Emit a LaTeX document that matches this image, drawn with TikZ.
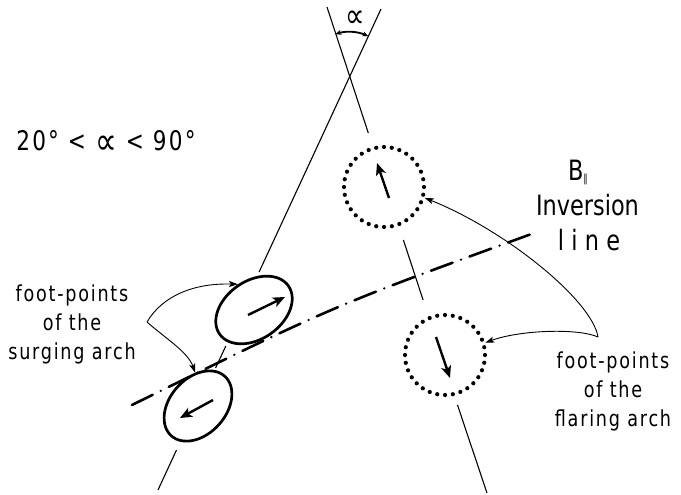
\documentclass[tikz,border=0pt]{standalone}
\usepackage{fontspec}
\setmainfont{DejaVu Sans}[FakeStretch=0.8]
\usetikzlibrary{arrows.meta,shapes.geometric,calc}

\newcommand{\propsym}[2]{\raisebox{#2}{\fontsize{#1}{#1}\selectfont ∝}}

\tikzset{
  guide/.style={line width=1.1pt},
  footsolid/.style={draw, ellipse, line width=2.7pt, inner sep=0pt},
  footdotted/.style={draw, circle, minimum size=80pt, inner sep=0pt,
    line width=4.2pt, line cap=round, dash pattern=on 0pt off 7.854pt},
  fieldarrow/.style={line width=2.4pt, -{Stealth[length=12pt,width=10pt,inset=3pt]}},
  leader/.style={line width=0.9pt, -{Stealth[length=9pt,width=6pt,inset=2pt]}},
  pil/.style={line width=2.6pt, line cap=round,
    dash pattern=on 23pt off 9pt on 0pt off 9pt},
  anglemark/.style={line width=1.8pt,
    {Stealth[length=6pt,width=5pt]}-{Stealth[length=6pt,width=5pt]}},
  biglabel/.style={inner sep=0pt, font=\fontsize{28}{28}\selectfont},
  smalllabel/.style={inner sep=0pt, align=center,
    font=\fontsize{22}{29}\selectfont\addfontfeature{LetterSpace=8}},
}

\begin{document}
\begin{tikzpicture}[x=1pt, y=-1pt]
\useasboundingbox (0,0) rectangle (681,495);

% polarity inversion line
\coordinate (pilA) at (132,405);
\coordinate (pilB) at (537,232);
\draw[pil] (pilA) .. controls (333,306) .. (pilB);

% guide line through the flaring foot-points
\coordinate (l1) at (327,7);
\coordinate (l2) at (368.3,133);
\coordinate (l3) at (403.4,240);
\coordinate (l4) at (423.1,300);
\coordinate (l5) at (457.5,405);
\coordinate (l6) at (487,493);
\draw[guide] (l1) -- (l2) (l3) -- (l4) (l5) -- (l6);

% guide line through the surging foot-points
\coordinate (r1) at (381,9);
\coordinate (r2) at (259.1,272);
\coordinate (r3) at (225.8,346);
\coordinate (r4) at (215.6,368);
\coordinate (r5) at (176.5,450);
\coordinate (r6) at (158,490);
\draw[guide] (r1) -- (r2) (r3) -- (r4) (r5) -- (r6);

% opening angle between the two guide lines
\coordinate (apex) at (349,78);
\draw[anglemark] (335.4,34.1) arc[start angle=-107.2, end angle=-65.1, radius=46];
\node[inner sep=0pt] (alab) at (355,19) {\propsym{34}{0pt}};

% foot-points of the surging arch
\node[footsolid, minimum width=84pt, minimum height=58pt, rotate=35] (su) at (254,310) {};
\node[footsolid, minimum width=80pt, minimum height=56pt, rotate=48] (sl) at (198,406) {};
\draw[fieldarrow] ($(su)+(-6,5)$) -- ($(su)+(31,-13)$);
\draw[fieldarrow] ($(sl)+(15,-6)$) -- ($(sl)+(-18,12)$);

% foot-points of the flaring arch
\node[footdotted] (cu) at (384,187) {};
\node[footdotted] (cl) at (445,355) {};
\draw[fieldarrow] ($(cu)+(5,11)$) -- ($(cu)+(-7,-24)$);
\draw[fieldarrow] ($(cl)+(-9,-18)$) -- ($(cl)+(5,23)$);

% labels
\node[inner sep=0pt, anchor=base,
  font=\fontsize{27}{27}\selectfont\addfontfeature{LetterSpace=8}] (range) at (106,150)
  {20° < \propsym{38}{-4.5pt} < 90°};
\node[biglabel, anchor=base] (bpar) at (578,180)
  {B\raisebox{-0.08em}{\fontsize{11}{11}\selectfont ∥}};
\node[biglabel, anchor=base] (inv) at (587.5,215) {Inversion};
\node[biglabel, anchor=base,
  font=\fontsize{28}{28}\selectfont\addfontfeature{LetterSpace=26}] (ln) at (589,250) {line};

\node[smalllabel] (surgtxt) at (72,324) {foot-points\\of the\\surging arch};
\node[smalllabel] (flaretxt) at (613,391) {foot-points\\of the\\flaring arch};

% leaders from the labels to the foot-points
\coordinate (lcusp) at (147,322);
\draw[leader] (lcusp) .. controls (163,295) and (195,283) .. (su.87);
\draw[leader] (lcusp) .. controls (165,338) and (188,352) .. (sl.47);

\coordinate (rcusp) at (598,337);
\draw[leader] (rcusp) .. controls (592,300) and (505,230) .. (cu.-15);
\draw[leader] (rcusp) .. controls (578,328) and (520,330) .. (cl.17);
\end{tikzpicture}
\end{document}
